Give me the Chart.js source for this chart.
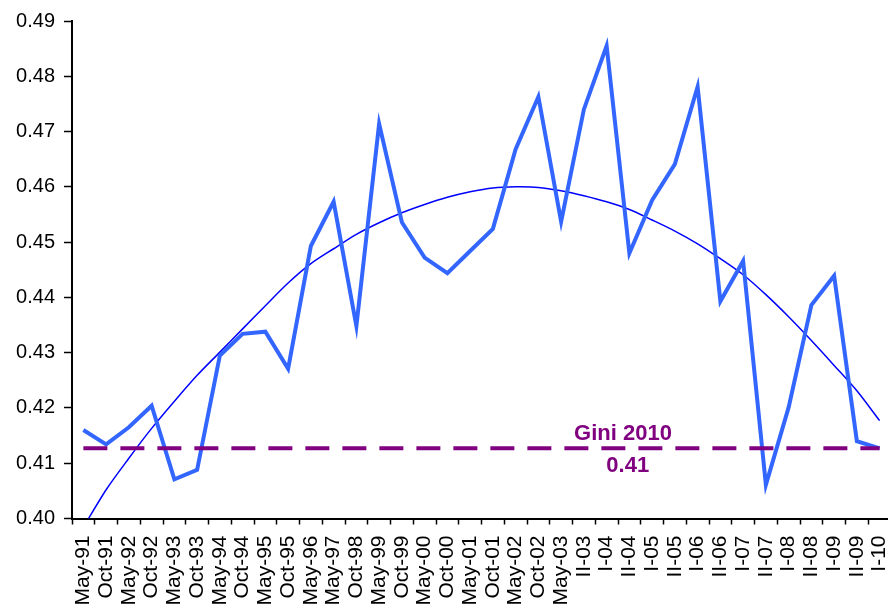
<!DOCTYPE html>
<html lang="en">
<head>
  <meta charset="UTF-8">
  <title>Gini coefficient</title>
  <script src="https://cdn.jsdelivr.net/npm/chart.js"></script>
  <style>
    html, body {
      margin: 0;
      padding: 0;
      background: #fff;
      overflow: hidden;
    }
    #wrap {
      width: 891px;
      height: 608px;
    }
  </style>
</head>
<body>
<div id="wrap">
  <canvas id="giniChart" width="891" height="608"></canvas>
</div>

<script>
const categories = [
  'May-91', 'Oct-91', 'May-92', 'Oct-92', 'May-93', 'Oct-93', 'May-94', 'Oct-94',
  'May-95', 'Oct-95', 'May-96', 'May-97', 'Oct-98', 'May-99', 'Oct-99', 'May-00',
  'Oct-00', 'May-01', 'Oct-01', 'May-02', 'Oct-02', 'May-03', 'II-03', 'I-04',
  'II-04', 'I-05', 'II-05', 'I-06', 'II-06', 'I-07', 'II-07', 'I-08',
  'II-08', 'I-09', 'II-09', 'I-10'
];

const giniValues = [
  0.4160, 0.4134, 0.4165, 0.4204, 0.4071, 0.4088, 0.4295, 0.4334,
  0.4338, 0.4271, 0.4493, 0.4573, 0.4348, 0.4714, 0.4536, 0.4472,
  0.4444, 0.4484, 0.4524, 0.4668, 0.4763, 0.4537, 0.4740, 0.4855,
  0.4480, 0.4576, 0.4641, 0.4781, 0.4393, 0.4466, 0.4061, 0.4201,
  0.4386, 0.4439, 0.4140, 0.4127
];

// polynomial trend
const trendValues = [
  0.3984, 0.4052, 0.4109, 0.4163, 0.4212, 0.4259, 0.4301, 0.4343,
  0.4385, 0.4426, 0.4461, 0.4488, 0.4514, 0.4535, 0.4553, 0.4568,
  0.4581, 0.4591, 0.4598, 0.4600, 0.4599, 0.4593, 0.4584, 0.4573,
  0.4559, 0.4540, 0.4520, 0.4497, 0.4470, 0.4441, 0.4405, 0.4365,
  0.4322, 0.4277, 0.4231, 0.4177
];

const gini2010 = 0.4127;
const refLabelTop = 'Gini 2010';
const refLabelBottom = '0.41';

const yMin = 0.40;
const yMax = 0.49;
const yStep = 0.01;

const FONT = 'Arial, "Liberation Sans", sans-serif';
const PURPLE = '#800080';

const refLabels = {
  id: 'refLabels',
  afterDatasetsDraw(chart) {
    const ctx = chart.ctx;
    const xs = chart.scales.x;
    const ys = chart.scales.y;
    const yLine = ys.getPixelForValue(gini2010);
    ctx.save();
    ctx.fillStyle = PURPLE;
    ctx.font = 'bold 22px ' + FONT;
    ctx.textAlign = 'center';
    ctx.textBaseline = 'alphabetic';
    ctx.fillText(refLabelTop, xs.getPixelForValue(23.72), yLine - 8);
    ctx.textBaseline = 'top';
    ctx.fillText(refLabelBottom, xs.getPixelForValue(23.93), yLine + 7);
    ctx.restore();
  }
};

new Chart(document.getElementById('giniChart'), {
  type: 'line',
  data: {
    labels: categories,
    datasets: [
      {
        label: 'Gini 2010',
        data: categories.map(() => gini2010),
        borderColor: PURPLE,
        borderWidth: 4,
        borderDash: [24, 13],
        borderCapStyle: 'butt',
        pointRadius: 0,
        fill: false
      },
      {
        label: 'Gini',
        data: giniValues,
        borderColor: '#3366FF',
        borderWidth: 4,
        pointRadius: 0,
        tension: 0,
        fill: false
      },
      {
        label: 'Trend',
        data: trendValues,
        borderColor: '#0000FF',
        borderWidth: 1.5,
        pointRadius: 0,
        tension: 0.3,
        fill: false
      }
    ]
  },
  options: {
    responsive: false,
    animation: false,
    devicePixelRatio: 1,
    layout: { padding: { top: 20, left: 0, right: 0, bottom: 0 } },
    plugins: {
      legend: { display: false },
      tooltip: { enabled: false }
    },
    scales: {
      x: {
        offset: true,
        grid: {
          offset: true,
          drawOnChartArea: false,
          drawTicks: true,
          tickLength: 6,
          tickWidth: 1.5,
          tickColor: '#000'
        },
        border: { display: true, color: '#000', width: 2 },
        ticks: {
          autoSkip: false,
          minRotation: 90,
          maxRotation: 90,
          padding: 11,
          color: '#000',
          font: { family: FONT, size: 21 }
        },
        afterFit(scale) {
          scale.height = 89.5;
          scale.paddingLeft = 0;
          scale.paddingRight = 0;
        }
      },
      y: {
        min: yMin,
        max: yMax,
        grid: {
          drawOnChartArea: false,
          drawTicks: true,
          tickLength: 8,
          tickWidth: 1.5,
          tickColor: '#000'
        },
        border: { display: true, color: '#000', width: 2 },
        ticks: {
          stepSize: yStep,
          padding: 9,
          color: '#000',
          font: { family: FONT, size: 20 },
          callback: v => v.toFixed(2)
        },
        afterFit(scale) { scale.width = 72; }
      }
    }
  },
  plugins: [refLabels]
});
</script>
</body>
</html>
